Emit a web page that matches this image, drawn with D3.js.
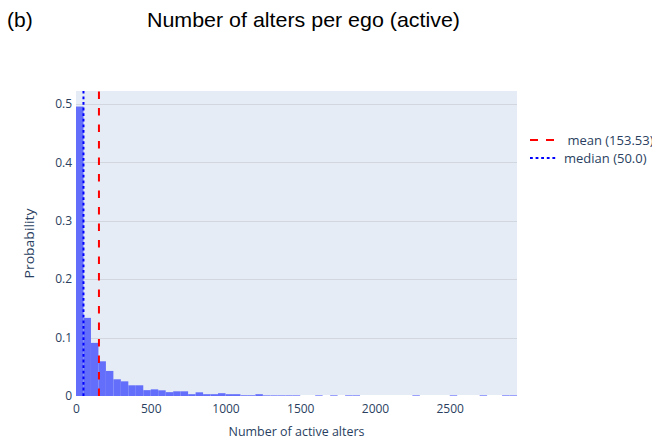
<!DOCTYPE html>
<html>
<head>
<meta charset="utf-8">
<script src="https://cdn.jsdelivr.net/npm/d3@7"></script>
<style>
  body { margin: 0; background: #fff; }
  svg { display: block; overflow: hidden; }
  text { font-family: "Open Sans", verdana, arial, sans-serif; }
</style>
</head>
<body>
<div id="chart"></div>
<script>
// histogram bins (start of each 50-wide bin) and their probability, empty bins left out
const binStarts = [0, 50, 100, 150, 200, 250, 300, 350, 400, 450, 500, 550, 600, 650, 700, 750, 800, 850, 900, 950,
  1000, 1050, 1100, 1150, 1200, 1250, 1300, 1350, 1400, 1450, 1600, 1700, 1800, 1850, 2250, 2500, 2700, 2850, 2900];
const probs = [0.4954, 0.1337, 0.0909, 0.0594, 0.0429, 0.0286, 0.0251, 0.0183, 0.0183, 0.0100, 0.0114, 0.0097, 0.0066, 0.0080, 0.0080, 0.0031, 0.0063, 0.0031, 0.0031, 0.0048,
  0.0031, 0.0031, 0.0013, 0.0013, 0.0031, 0.0011, 0.0011, 0.0011, 0.0011, 0.0011, 0.0011, 0.0011, 0.0011, 0.0011, 0.0011, 0.0011, 0.0011, 0.0011, 0.0011];
const binSize = 50;
const xDomain = [0, 2950];
const yDomain = [0, 0.522];
const xTicks = [0, 500, 1000, 1500, 2000, 2500];
const yTicks = [0, 0.1, 0.2, 0.3, 0.4, 0.5];
const meanValue = 153.53;
const medianValue = 50.0;
const legendNames = [" mean (153.53)", "median (50.0)"];

const width = 652;
const height = 443;
const margin = { top: 91, right: 135, bottom: 47, left: 76 };

const svg = d3.select("#chart")
  .append("svg")
  .attr("width", width)
  .attr("height", height);

const x = d3.scaleLinear()
  .domain(xDomain)
  .range([margin.left, width - margin.right]);

const y = d3.scaleLinear()
  .domain(yDomain)
  .range([height - margin.bottom, margin.top]);

// plot background
svg.append("rect")
  .attr("x", x(xDomain[0]))
  .attr("y", y(yDomain[1]))
  .attr("width", x(xDomain[1]) - x(xDomain[0]))
  .attr("height", y(yDomain[0]) - y(yDomain[1]))
  .attr("fill", "#e5ecf6");

// gridlines
svg.append("g")
  .selectAll("line")
  .data(yTicks.filter(d => d > 0))
  .enter()
  .append("line")
  .attr("x1", x(xDomain[0]))
  .attr("x2", x(xDomain[1]))
  .attr("y1", d => Math.round(y(d)) + 0.5)
  .attr("y2", d => Math.round(y(d)) + 0.5)
  .attr("stroke", "#d2d6de")
  .attr("stroke-width", 1);

// zero line
svg.append("line")
  .attr("x1", x(xDomain[0]))
  .attr("x2", x(xDomain[1]))
  .attr("y1", y(0))
  .attr("y2", y(0))
  .attr("stroke", "#fff")
  .attr("stroke-width", 2);

// bars
svg.append("g")
  .selectAll("rect")
  .data(binStarts.map((b, i) => ({ start: b, p: probs[i] })))
  .enter()
  .append("rect")
  .attr("x", d => x(d.start))
  .attr("width", d => x(d.start + binSize) - x(d.start))
  .attr("y", d => y(d.p))
  .attr("height", d => y(0) - y(d.p))
  .attr("fill", "#636efa");

// mean / median lines
svg.append("line")
  .attr("x1", x(meanValue)).attr("x2", x(meanValue))
  .attr("y1", y(0)).attr("y2", y(yDomain[1]))
  .attr("stroke", "red")
  .attr("stroke-width", 2)
  .attr("stroke-dasharray", "7.5,9");

svg.append("line")
  .attr("x1", x(medianValue)).attr("x2", x(medianValue))
  .attr("y1", y(0)).attr("y2", y(yDomain[1]))
  .attr("stroke", "blue")
  .attr("stroke-width", 2)
  .attr("stroke-dasharray", "2.8,2.8");

// axes
const xAxis = svg.append("g")
  .attr("transform", `translate(0,${y(0)})`)
  .call(d3.axisBottom(x).tickValues(xTicks).tickSize(0).tickPadding(8).tickFormat(d3.format("d")));
xAxis.select(".domain").remove();

const yAxis = svg.append("g")
  .attr("transform", `translate(${x(0)},0)`)
  .call(d3.axisLeft(y).tickValues(yTicks).tickSize(0).tickPadding(4).tickFormat(d => d === 0 ? "0" : d3.format(".1f")(d)));
yAxis.select(".domain").remove();

svg.selectAll(".tick text")
  .attr("font-family", "'Open Sans', verdana, arial, sans-serif")
  .attr("font-size", 12)
  .attr("fill", "#2a3f5f");

// axis titles
svg.append("text")
  .attr("x", (x(xDomain[0]) + x(xDomain[1])) / 2)
  .attr("y", 436)
  .attr("text-anchor", "middle")
  .attr("font-size", 12.5)
  .attr("textLength", 136)
  .attr("lengthAdjust", "spacingAndGlyphs")
  .attr("fill", "#2a3f5f")
  .text("Number of active alters");

svg.append("text")
  .attr("transform", `translate(34,${(y(0) + y(yDomain[1])) / 2}) rotate(-90)`)
  .attr("text-anchor", "middle")
  .attr("font-size", 13)
  .attr("textLength", 70)
  .attr("lengthAdjust", "spacingAndGlyphs")
  .attr("fill", "#2a3f5f")
  .text("Probability");

// titles
svg.append("text")
  .attr("x", 7)
  .attr("y", 27)
  .style("font-family", "'Liberation Sans', Arial, sans-serif")
  .attr("font-size", 21)
  .attr("fill", "#000")
  .text("(b)");

svg.append("text")
  .attr("x", 147)
  .attr("y", 27)
  .style("font-family", "'Liberation Sans', Arial, sans-serif")
  .attr("font-size", 21)
  .attr("textLength", 313)
  .attr("lengthAdjust", "spacingAndGlyphs")
  .attr("fill", "#000")
  .text("Number of alters per ego (active)");

// legend
const legend = svg.append("g").attr("transform", "translate(530,140)");
const legendStyles = [
  { color: "red", dash: "8,8" },
  { color: "blue", dash: "2.8,2.8" }
];
legendNames.forEach((name, i) => {
  const row = legend.append("g").attr("transform", `translate(0,${i * 18})`);
  row.append("line")
    .attr("x1", 0).attr("x2", 27)
    .attr("stroke", legendStyles[i].color)
    .attr("stroke-width", 2)
    .attr("stroke-dasharray", legendStyles[i].dash);
  row.append("text")
    .attr("x", 34)
    .attr("dy", "0.35em")
    .attr("font-size", 13)
    .attr("fill", "#2a3f5f")
    .style("white-space", "pre")
    .text(name);
});
</script>
</body>
</html>
